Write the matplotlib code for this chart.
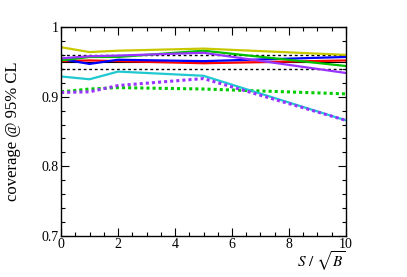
'''
Coverage at 95% CL versus S/sqrt(B)
'''
import matplotlib
matplotlib.use('Agg')
import matplotlib.pyplot as plt
from matplotlib.ticker import MultipleLocator, FixedFormatter, FixedLocator

plt.rcParams['font.family'] = 'Liberation Serif'
plt.rcParams['mathtext.fontset'] = 'stix'

# signal significance points
s_over_sqrtb = [0, 1, 2, 5, 10]

# solid curves
yellow = [0.971, 0.964, 0.966, 0.969, 0.960]
purple = [0.955, 0.958, 0.959, 0.963, 0.934]
green = [0.952, 0.957, 0.957, 0.966, 0.944]
blue = [0.954, 0.947, 0.953, 0.951, 0.957]
red = [0.951, 0.952, 0.951, 0.948, 0.952]
cyan = [0.929, 0.925, 0.936, 0.930, 0.866]

# dotted curves
purple_dot = [0.906, 0.907, 0.916, 0.926, 0.866]
green_dot = [0.907, 0.911, 0.913, 0.911, 0.904]

# reference levels
nominal = 0.95
band = [0.94, 0.96]

fig = plt.figure(figsize=(4.07, 2.77), dpi=100)
ax = fig.add_axes([0.150, 0.148, 0.700, 0.7545])

ax.axhline(nominal, color='black', lw=0.8)
for b in band:
    ax.axhline(b, color='black', lw=1.0, ls=(0, (2, 2)))

ax.plot(s_over_sqrtb, green_dot, color='#00cc00', lw=2.2, ls=(0, (1, 1)))
ax.plot(s_over_sqrtb, cyan, color='#20c8d0', lw=1.6)
ax.plot(s_over_sqrtb, purple_dot, color='#9933ff', lw=2.2, ls=(0, (1, 1)))
ax.plot(s_over_sqrtb, red, color='#ff0000', lw=1.6)
ax.plot(s_over_sqrtb, blue, color='#0000ff', lw=1.6)
ax.plot(s_over_sqrtb, green, color='#00c000', lw=1.6)
ax.plot(s_over_sqrtb, purple, color='#9933ff', lw=1.6)
ax.plot(s_over_sqrtb, yellow, color='#c8c800', lw=1.6)

ax.set_xlim(0, 10)
ax.set_ylim(0.7, 1.0)

ax.xaxis.set_major_locator(MultipleLocator(2))
ax.xaxis.set_minor_locator(MultipleLocator(0.5))
ax.yaxis.set_major_locator(FixedLocator([0.7, 0.8, 0.9, 1.0]))
ax.yaxis.set_major_formatter(FixedFormatter(['0.7', '0.8', '0.9', '1']))
ax.yaxis.set_minor_locator(MultipleLocator(0.02))

ax.tick_params(which='both', direction='in', top=True, right=True,
               labelsize=10, width=0.8, pad=1.5)
ax.tick_params(which='major', length=6)
ax.tick_params(which='minor', length=3)
for sp in ax.spines.values():
    sp.set_linewidth(1.0)

ax.set_ylabel('coverage @ 95% CL', fontsize=12, labelpad=6)
ax.yaxis.set_label_coords(-0.14, 0.5)
ax.set_xlabel(r'$S\ /\ \sqrt{B}$', fontsize=11)
ax.xaxis.set_label_coords(1.0, -0.15)
ax.xaxis.label.set_horizontalalignment('right')
ax.xaxis.label.set_verticalalignment('baseline')

fig.savefig('out.png', dpi=100)
